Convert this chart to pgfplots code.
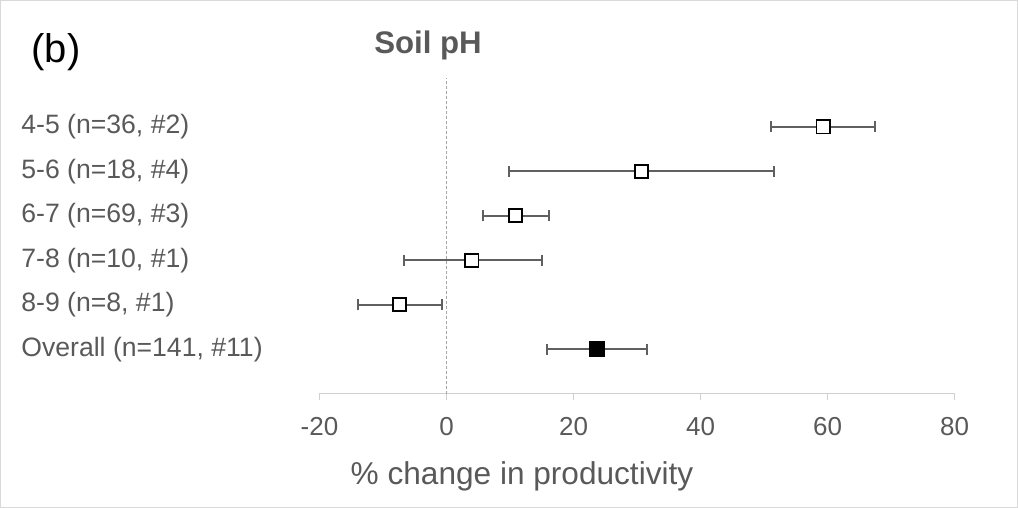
\documentclass[border=0pt]{standalone}
\usepackage{pgfplots}
\pgfplotsset{compat=1.18}
\usepackage{pgfplotstable}
\usepackage{fontspec}
\setmainfont{Liberation Sans}
\definecolor{txtgrey}{HTML}{595959}
\definecolor{axgrey}{HTML}{D0D0D0}
\definecolor{bordergrey}{HTML}{D9D9D9}
\definecolor{dashgrey}{HTML}{A6A6A6}
\definecolor{errgrey}{HTML}{606060}

\pgfplotstableread{
y x em ep
6 59.3 8.2 8.2
5 30.7 20.9 20.8
4 10.9 5.2 5.2
3 4.0 10.7 11.0
2 -7.4 6.6 6.7
}\groups
\pgfplotstableread{
y x em ep
1 23.7 7.8 7.9
}\overall

\begin{document}
\begin{tikzpicture}
\useasboundingbox (0,0) rectangle (509pt,254pt);
\draw[bordergrey, line width=0.5pt] (0.25pt,0.25pt) rectangle (508.75pt,253.75pt);
\begin{axis}[
  at={(159.75pt,57.2pt)}, anchor=south west,
  scale only axis, width=317.5pt, height=155.6pt,
  xmin=-20, xmax=80, ymin=0, ymax=7,
  clip=false,
  axis x line*=bottom, axis y line*=left,
  y axis line style={draw=none},
  x axis line style={axgrey, line width=0.75pt, -},
  xtick={-20,0,20,40,60,80},
  xticklabels={-20,0,20,40,60,80},
  ytick={1,...,6},
  yticklabels={{Overall (n=141, \#11)},{8-9 (n=8, \#1)},{7-8 (n=10, \#1)},{6-7 (n=69, \#3)},{5-6 (n=18, \#4)},{4-5 (n=36, \#2)}},
  tick align=outside,
  major tick length=3pt,
  xtick style={axgrey, line width=0.75pt},
  ytick style={draw=none},
  xticklabel style={font=\fontsize{13pt}{15pt}\selectfont, text=txtgrey, yshift=-5.5pt},
  yticklabel style={font=\fontsize{13.3pt}{15pt}\selectfont, text=txtgrey, anchor=west, inner sep=0pt, xshift=-146.25pt},
]
\addplot[dashgrey, line width=0.5pt, dash pattern=on 1.5pt off 1pt, forget plot] coordinates {(0,0) (0,7.1)};
\addplot[only marks, mark=none, forget plot,
  error bars/.cd, x dir=both, x explicit,
  error bar style={errgrey, line width=1pt},
  error mark options={errgrey, line width=1pt, mark size=2.8pt, rotate=90}]
  table[x=x, y=y, x error minus=em, x error plus=ep] {\groups};
\addplot[only marks, mark=none, forget plot,
  error bars/.cd, x dir=both, x explicit,
  error bar style={errgrey, line width=1pt},
  error mark options={errgrey, line width=1pt, mark size=2.8pt, rotate=90}]
  table[x=x, y=y, x error minus=em, x error plus=ep] {\overall};
\addplot[only marks, mark=square*, mark size=3.3pt, mark options={fill=white, draw=black, line width=0.9pt}] table[x=x, y=y] {\groups};
\addplot[only marks, mark=square*, mark size=3.6pt, mark options={fill=black, draw=black, line width=0.5pt}] table[x=x, y=y] {\overall};
\end{axis}
\node[font=\fontsize{20pt}{24pt}\selectfont] at (28pt,228pt) {(b)};
\node[font=\bfseries\fontsize{15.6pt}{18pt}\selectfont, text=txtgrey] at (214pt,231.5pt) {Soil pH};
\node[font=\fontsize{15.8pt}{19pt}\selectfont, text=txtgrey] at (261pt,16pt) {\% change in productivity};
\end{tikzpicture}
\end{document}
